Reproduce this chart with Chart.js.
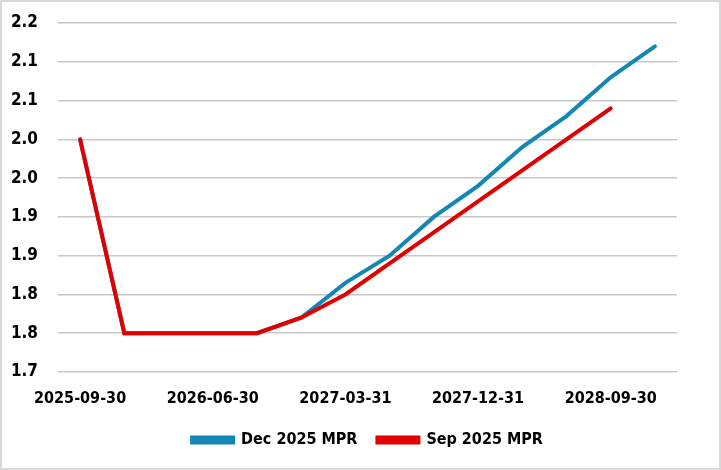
<!DOCTYPE html>
<html>
<head>
<meta charset="utf-8">
<script src="https://cdn.jsdelivr.net/npm/chart.js@4"></script>
<style>
  body { margin: 0; background: #fff; }
  #wrap { width: 721px; height: 470px; }
</style>
</head>
<body>
<div id="wrap"><canvas id="mprChart" width="721" height="470"></canvas></div>
<script>
const quarters = ['2025-09-30', '2025-12-31', '2026-03-31', '2026-06-30', '2026-09-30', '2026-12-31',
    '2027-03-31', '2027-06-30', '2027-09-30', '2027-12-31', '2028-03-31', '2028-06-30',
    '2028-09-30', '2028-12-31'];
const dec2025 = [2.00, 1.75, 1.75, 1.75, 1.75, 1.77, 1.815, 1.85, 1.90, 1.94, 1.99, 2.03, 2.08, 2.12];
const sep2025 = [2.00, 1.75, 1.75, 1.75, 1.75, 1.77, 1.80, 1.84, 1.88, 1.92, 1.96, 2.00, 2.04, null];

const fontFamily = '"DejaVu Sans Condensed", "Liberation Sans", sans-serif';

// white background + light grey frame
const frame = {
    id: 'frame',
    beforeDraw(chart) {
        const ctx = chart.ctx;
        ctx.save();
        ctx.fillStyle = '#ffffff';
        ctx.fillRect(0, 0, chart.width, chart.height);
        ctx.strokeStyle = '#d9d9d9';
        ctx.lineWidth = 2;
        ctx.strokeRect(1, 1, chart.width - 2, chart.height - 2);
        ctx.restore();
    }
};

const ctx = document.getElementById('mprChart').getContext('2d');
new Chart(ctx, {
    type: 'line',
    data: {
        labels: quarters,
        datasets: [{
            label: 'Dec 2025 MPR',
            data: dec2025,
            borderColor: '#1387b3',
            backgroundColor: '#1387b3',
            borderWidth: 4,
            pointRadius: 0,
            borderCapStyle: 'round',
            tension: 0,
            order: 2
        }, {
            label: 'Sep 2025 MPR',
            data: sep2025,
            borderColor: '#e00000',
            backgroundColor: '#e00000',
            borderWidth: 4,
            pointRadius: 0,
            borderCapStyle: 'round',
            tension: 0,
            order: 1
        }]
    },
    options: {
        responsive: false,
        animation: false,
        layout: {
            padding: { left: 0, right: 44, top: 23, bottom: 12 }
        },
        plugins: {
            legend: {
                position: 'bottom',
                fullSize: false,
                labels: {
                    boxWidth: 41,
                    boxHeight: 5,
                    padding: 20,
                    color: '#000',
                    font: { family: fontFamily, size: 16, weight: 'bold' },
                    sort: (a, b) => a.datasetIndex - b.datasetIndex
                }
            },
            tooltip: { enabled: false }
        },
        scales: {
            x: {
                offset: true,
                grid: { display: false },
                border: { display: false },
                ticks: {
                    autoSkip: false,
                    maxRotation: 0,
                    padding: 9,
                    color: '#000',
                    font: { family: fontFamily, size: 16, weight: 'bold' },
                    callback: function (v, i) { return i % 3 === 0 ? this.getLabelForValue(v) : ''; }
                },
                afterFit: s => { s.height = 40; }
            },
            y: {
                min: 1.70,
                max: 2.15,
                grid: { color: '#c8c8c8', lineWidth: 1.5, drawTicks: false },
                border: { display: false },
                ticks: {
                    stepSize: 0.05,
                    padding: 20,
                    color: '#000',
                    font: { family: fontFamily, size: 17, weight: 'bold' },
                    callback: v => (Math.round(v * 10 + 1e-6) / 10).toFixed(1)
                },
                afterFit: s => {
                    s.width = 58;
                    s.paddingTop = 0;
                    s.paddingBottom = 0;
                }
            }
        }
    },
    plugins: [frame]
});
</script>
</body>
</html>
